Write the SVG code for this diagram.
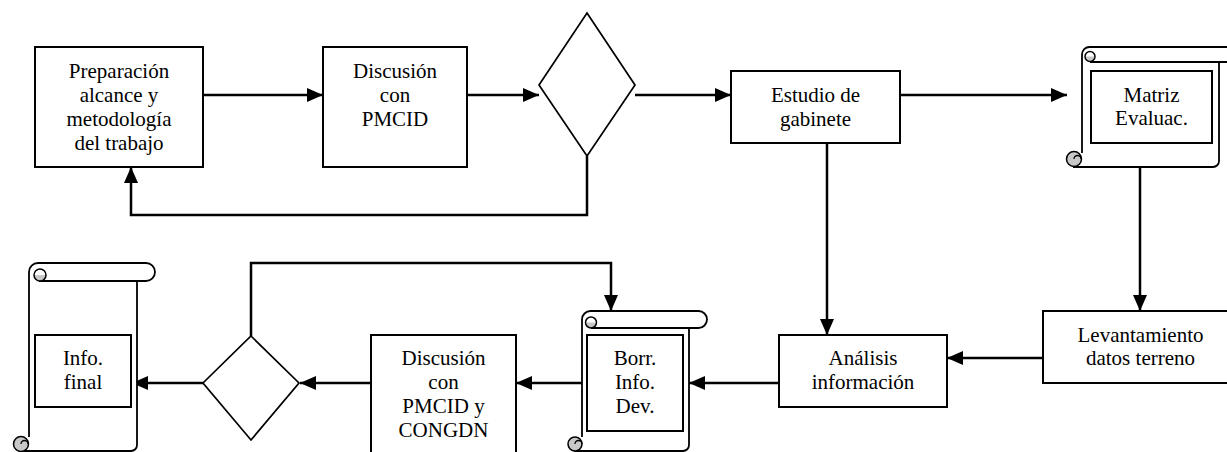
<svg xmlns="http://www.w3.org/2000/svg" width="1227" height="452" viewBox="0 0 1227 452">
<style>
.box{fill:#fff;stroke:#000;stroke-width:2}
.dia{fill:#fff;stroke:#000;stroke-width:1.7}
.scr{fill:#fff;stroke:#000;stroke-width:1.8;stroke-linejoin:round}
.ln{fill:none;stroke:#000;stroke-width:1.8}
.curl{fill:#c8c8c8;stroke:#000;stroke-width:1.5}
.con{fill:none;stroke:#000;stroke-width:2.5}
text{font-family:"Liberation Serif","Times New Roman",serif;font-size:21px;fill:#000;text-anchor:middle}
</style>
<defs>
<marker id="ah" markerUnits="userSpaceOnUse" markerWidth="16" markerHeight="14" refX="16" refY="7" orient="auto">
<path d="M0,0 L16,7 L0,14 Z" fill="#000"/>
</marker>
</defs>
<rect width="1227" height="452" fill="#fff"/>

<g id="connectors">
<path class="con" d="M203,95 H323" marker-end="url(#ah)"/>
<path class="con" d="M467,95 H539" marker-end="url(#ah)"/>
<path class="con" d="M635,95 H731" marker-end="url(#ah)"/>
<path class="con" d="M587,156 V215 H131 V167" marker-end="url(#ah)"/>
<path class="con" d="M900,95 H1067" marker-end="url(#ah)"/>
<path class="con" d="M827,143 V335" marker-end="url(#ah)"/>
<path class="con" d="M1140,167 V311" marker-end="url(#ah)"/>
<path class="con" d="M1043,358 H947" marker-end="url(#ah)"/>
<path class="con" d="M779,383 H689" marker-end="url(#ah)"/>
<path class="con" d="M582,383 H516" marker-end="url(#ah)"/>
<path class="con" d="M371,383 H300" marker-end="url(#ah)"/>
<path class="con" d="M203,383 H132" marker-end="url(#ah)"/>
<path class="con" d="M251,336 V263 H611 V311" marker-end="url(#ah)"/>
</g>

<g id="prep">
<rect class="box" x="35" y="47" width="168" height="120"/>
<text x="119" y="77.5">Preparación</text>
<text x="119" y="101.8">alcance y</text>
<text x="119" y="126">metodología</text>
<text x="119" y="150.3">del trabajo</text>
</g>

<g id="disc1">
<rect class="box" x="323" y="47" width="144" height="120"/>
<text x="395" y="77.5">Discusión</text>
<text x="395" y="101.8">con</text>
<text x="395" y="126">PMCID</text>
</g>

<g id="dec1">
<polygon class="dia" points="587,13 635,85 587,156 539,85"/>
</g>

<g id="estudio">
<rect class="box" x="731" y="71" width="169" height="72"/>
<text x="815.5" y="101.7">Estudio de</text>
<text x="815.5" y="125.5">gabinete</text>
</g>

<g id="matriz">
<path class="scr" d="M1082,153 V54.5 A7.5,7.5 0 0 1 1089.5,47 H1237.5 A7.5,7.5 0 0 1 1237.5,62 H1219 V161 A6,6 0 0 1 1213,167 H1073"/>
<path class="ln" d="M1219,62 H1090"/>
<path d="M1085,56.5 A5,5 0 0 0 1095,56.5 Z" fill="#c8c8c8"/>
<circle cx="1090" cy="56.5" r="5" fill="none" stroke="#000" stroke-width="1.5"/>
<circle class="curl" cx="1074" cy="159" r="7.5"/>
<path class="ln" d="M1074,159 A3.5,3.5 0 0 1 1081,159" style="stroke-width:1.3"/>
<rect class="box" x="1091" y="71" width="121" height="72"/>
<text x="1151.5" y="101.7">Matriz</text>
<text x="1151.5" y="125.3">Evaluac.</text>
</g>

<g id="levant">
<rect class="box" x="1043" y="311" width="200" height="72"/>
<text x="1140.5" y="341.7">Levantamiento</text>
<text x="1140.5" y="365">datos terreno</text>
</g>

<g id="analisis">
<rect class="box" x="779" y="335" width="168" height="72"/>
<text x="863" y="365">Análisis</text>
<text x="863" y="388.7">información</text>
</g>

<g id="borr">
<path class="scr" d="M582,437 V319.5 A8.5,8.5 0 0 1 590.5,311 H698.5 A8.5,8.5 0 0 1 698.5,328 H689 V445 A6,6 0 0 1 683,451 H574"/>
<path class="ln" d="M689,328 H591"/>
<path d="M585.5,322.5 A5.5,5.5 0 0 0 596.5,322.5 Z" fill="#c8c8c8"/>
<circle cx="591" cy="322.5" r="5.5" fill="none" stroke="#000" stroke-width="1.5"/>
<circle class="curl" cx="575" cy="444" r="7"/>
<path class="ln" d="M575,444 A3.5,3.5 0 0 1 582,444" style="stroke-width:1.3"/>
<rect class="box" x="587" y="335" width="96" height="96"/>
<text x="635" y="365">Borr.</text>
<text x="635" y="389">Info.</text>
<text x="635" y="413">Dev.</text>
</g>

<g id="disc2">
<rect class="box" x="371" y="335" width="145" height="130"/>
<text x="443.5" y="365">Discusión</text>
<text x="443.5" y="389">con</text>
<text x="443.5" y="413">PMCID y</text>
<text x="443.5" y="437">CONGDN</text>
</g>

<g id="dec2">
<polygon class="dia" points="251,336 299,383 251,440 203,383"/>
</g>

<g id="info">
<path class="scr" d="M29,437 V272 A9,9 0 0 1 38,263 H146 A9,9 0 0 1 146,281 H137 V445 A6,6 0 0 1 131,451 H19"/>
<path class="ln" d="M137,281 H39"/>
<path d="M34,275 A6,6 0 0 0 46,275 Z" fill="#c8c8c8"/>
<circle cx="40" cy="275" r="6" fill="none" stroke="#000" stroke-width="1.5"/>
<circle class="curl" cx="21" cy="444" r="7.5"/>
<path class="ln" d="M21,444 A3.5,3.5 0 0 1 28,444" style="stroke-width:1.3"/>
<rect class="box" x="35" y="335" width="96" height="72"/>
<text x="83" y="365">Info.</text>
<text x="83" y="389">final</text>
</g>
</svg>
